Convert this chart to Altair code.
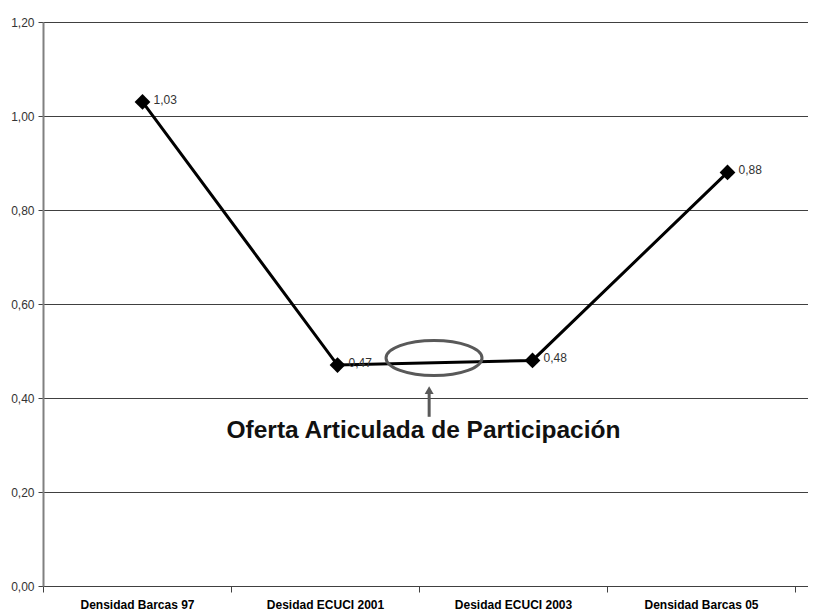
import altair as alt
import pandas as pd

# ---- data ----
categories = ["Densidad Barcas 97", "Desidad ECUCI 2001", "Desidad ECUCI 2003", "Densidad Barcas 05"]
values = [1.03, 0.47, 0.48, 0.88]
y_ticks = [0.0, 0.2, 0.4, 0.6, 0.8, 1.0, 1.2]

annotation_text = ["Oferta Articulada de Participación"]
# annotation anchors in data units (x = category index, y = value)
ellipse_idx = [1.495]
ellipse_val = [0.485]
arrow_idx = [1.47]
arrow_tail = [0.36]
arrow_head = [0.417]
text_idx = [1.441]
text_val = [0.3155]

df = pd.DataFrame({"categoria": categories, "idx": list(range(len(categories))), "valor": values})
df_ellipse = pd.DataFrame({"idx": ellipse_idx, "valor": ellipse_val})
df_arrow = pd.DataFrame({"idx": arrow_idx, "valor": arrow_tail, "valor2": arrow_head})
df_text = pd.DataFrame({"idx": text_idx, "valor": text_val, "texto": annotation_text})

SANS = "Liberation Sans, Arial, sans-serif"
GRID = "#404040"
ANNOT = "#595959"

y_enc = alt.Y(
    "valor:Q",
    scale=alt.Scale(domain=[0, 1.2], nice=False, zero=True),
    axis=alt.Axis(
        values=y_ticks,
        labelExpr="replace(format(datum.value, '.2f'), '.', ',')",
        grid=True, gridColor=GRID, gridWidth=1, gridOpacity=1,
        domainColor="#808080", domainWidth=2,
        tickColor=GRID, tickSize=5,
        labelFont=SANS, labelFontSize=12, labelColor="#333333", labelPadding=4,
    ),
    title=None,
)
y_plain = alt.Y("valor:Q", title=None)

x_idx = alt.X("idx:Q", scale=alt.Scale(domain=[-0.5, 3.5], range=[2, 782], nice=False, zero=False),
              axis=None, title=None)

axis_layer = alt.Chart(df).mark_point(opacity=0).encode(
    x=alt.X(
        "categoria:N", sort=categories,
        scale=alt.Scale(type="band", range=[0, 765], paddingInner=0, paddingOuter=0.0346, align=0),
        axis=alt.Axis(
            tickBand="extent", labelAngle=0,
            domainColor=GRID, domainWidth=1, tickColor=GRID, tickSize=6,
            labelFont=SANS, labelFontSize=12, labelFontWeight="bold", labelColor="#000000",
            labelPadding=7, grid=False,
        ),
        title=None,
    ),
    y=y_enc,
)

line = alt.Chart(df).mark_line(color="black", strokeWidth=3).encode(x=x_idx, y=y_plain)
points = alt.Chart(df).mark_point(shape="diamond", filled=True, size=250, color="black", opacity=1).encode(
    x=x_idx, y=y_plain)
labels = alt.Chart(df).transform_calculate(
    lab="replace(format(datum.valor, '.2f'), '.', ',')"
).mark_text(align="left", baseline="middle", dx=11, dy=-2, font=SANS, fontSize=12, color="#333333").encode(
    x=x_idx, y=y_plain, text="lab:N")

ellipse = alt.Chart(df_ellipse).mark_point(
    shape="M-1,0A1,0.365,0,1,1,1,0A1,0.365,0,1,1,-1,0Z",
    size=96 * 96, filled=False, stroke=ANNOT, strokeWidth=3, opacity=1,
).encode(x=x_idx, y=y_plain)

arrow_shaft = alt.Chart(df_arrow).mark_rule(color=ANNOT, strokeWidth=3).encode(
    x=x_idx, y=y_plain, y2="valor2:Q")
arrow_head_mark = alt.Chart(df_arrow).mark_point(
    shape="triangle-up", filled=True, size=80, color=ANNOT, opacity=1
).encode(x=x_idx, y=alt.Y("valor2:Q", title=None))

note = alt.Chart(df_text).mark_text(
    align="center", baseline="alphabetic", font=SANS,
    fontSize=24.5, fontWeight="bold", color="#111111",
).encode(x=x_idx, y=y_plain, text="texto:N")

inner = alt.layer(line, ellipse, arrow_shaft, arrow_head_mark, points, labels, note)

chart = alt.layer(axis_layer, inner).resolve_scale(x="independent").properties(
    width=765, height=564,
    autosize=alt.AutoSizeParams(type="none"),
    padding={"left": 35, "top": 14, "right": 0, "bottom": 24},
    background="white",
).configure_view(stroke=None)

chart.save("out.html", embed_options={"renderer": "svg", "actions": False})
